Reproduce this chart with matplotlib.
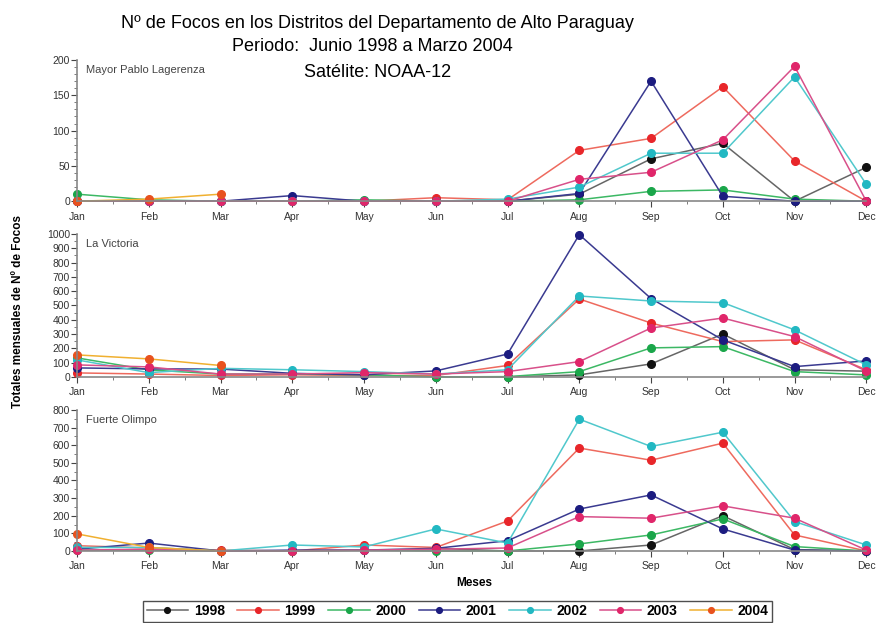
import matplotlib.pyplot as plt
from matplotlib.ticker import MultipleLocator
import numpy as np

plt.rcParams['font.family'] = ['Liberation Sans', 'DejaVu Sans']

meses = ['Jan', 'Feb', 'Mar', 'Apr', 'May', 'Jun', 'Jul', 'Aug', 'Sep', 'Oct', 'Nov', 'Dec']
anios = ['1998', '1999', '2000', '2001', '2002', '2003', '2004']
N = np.nan

# Mayor Pablo Lagerenza
lagerenza_1998 = [N, N, N, N, N, 0, 0, 10, 60, 82, 0, 48]
lagerenza_1999 = [0, 0, 0, 0, 0, 5, 2, 72, 89, 162, 57, 0]
lagerenza_2000 = [10, 2, 0, 0, 2, 0, 0, 2, 14, 16, 3, 0]
lagerenza_2001 = [0, 0, 0, 8, 0, 0, 0, 11, 170, 7, 0, 0]
lagerenza_2002 = [0, 0, 0, 0, 0, 0, 3, 20, 68, 68, 176, 24]
lagerenza_2003 = [0, 0, 0, 0, 0, 0, 0, 31, 41, 87, 191, 0]
lagerenza_2004 = [0, 3, 10, N, N, N, N, N, N, N, N, N]

# La Victoria
victoria_1998 = [N, N, N, N, N, 0, 0, 14, 91, 300, 50, 40]
victoria_1999 = [28, 20, 10, 15, 10, 10, 80, 545, 377, 247, 259, 50]
victoria_2000 = [133, 49, 20, 20, 15, 0, 2, 37, 203, 212, 37, 14]
victoria_2001 = [63, 56, 55, 25, 15, 42, 160, 995, 548, 259, 72, 112]
victoria_2002 = [119, 30, 60, 50, 37, 20, 50, 566, 531, 520, 329, 84]
victoria_2003 = [84, 70, 20, 20, 30, 20, 37, 107, 342, 412, 282, 40]
victoria_2004 = [154, 126, 80, N, N, N, N, N, N, N, N, N]

# Fuerte Olimpo
olimpo_1998 = [N, N, N, N, N, 15, 0, 0, 34, 200, 8, 0]
olimpo_1999 = [30, 17, 5, 0, 34, 20, 170, 584, 515, 612, 91, 0]
olimpo_2000 = [5, 5, 0, 0, 5, 0, 0, 40, 91, 182, 25, 0]
olimpo_2001 = [10, 45, 0, 5, 5, 15, 58, 238, 318, 125, 5, 0]
olimpo_2002 = [20, 20, 0, 34, 23, 125, 45, 748, 593, 674, 167, 34]
olimpo_2003 = [5, 10, 0, 0, 5, 10, 17, 195, 186, 256, 186, 5]
olimpo_2004 = [97, 20, 0, N, N, N, N, N, N, N, N, N]

colores_marca = ['#111111', '#e8262a', '#1aa64a', '#1c1c80', '#22b8c2', '#e0266a', '#e8521e']
colores_linea = ['#666666', '#ee6a5e', '#3cb864', '#3a3a90', '#50c8cc', '#d8508a', '#f0b030']

paneles = [
    ('Mayor Pablo Lagerenza', [lagerenza_1998, lagerenza_1999, lagerenza_2000, lagerenza_2001,
                               lagerenza_2002, lagerenza_2003, lagerenza_2004], 200, 50, 10),
    ('La Victoria', [victoria_1998, victoria_1999, victoria_2000, victoria_2001,
                     victoria_2002, victoria_2003, victoria_2004], 1000, 100, 50),
    ('Fuerte Olimpo', [olimpo_1998, olimpo_1999, olimpo_2000, olimpo_2001,
                       olimpo_2002, olimpo_2003, olimpo_2004], 800, 100, 50),
]

fig = plt.figure(figsize=(8.78, 6.23), dpi=100)
posiciones = [[0.0877, 0.677, 0.899, 0.2267],
              [0.0877, 0.395, 0.899, 0.2295],
              [0.0877, 0.1156, 0.899, 0.2263]]

x = np.arange(12)
handles = []
for (nombre, series, ymax, mayor, menor), pos in zip(paneles, posiciones):
    ax = fig.add_axes(pos)
    for serie, cm, cl, anio in zip(series, colores_marca, colores_linea, anios):
        ln, = ax.plot(x, serie, '-', color=cl, lw=1.1, marker='o', ms=5.5,
                      mfc=cm, mec=cm, label=anio, clip_on=False)
        if len(handles) < 7:
            handles.append(ln)
    ax.set_xlim(0, 11)
    ax.set_ylim(0, ymax)
    ax.set_xticks(x)
    ax.set_xticklabels(meses)
    ax.xaxis.set_minor_locator(MultipleLocator(0.5))
    ax.yaxis.set_major_locator(MultipleLocator(mayor))
    ax.yaxis.set_minor_locator(MultipleLocator(menor))
    for lado in ['top', 'right']:
        ax.spines[lado].set_visible(False)
    for lado in ['left', 'bottom']:
        ax.spines[lado].set_color('#888888')
        ax.spines[lado].set_linewidth(1.2)
    ax.tick_params(axis='both', which='major', labelsize=7.5, colors='#444444',
                   length=4, width=0.8, labelcolor='#333333')
    ax.tick_params(axis='both', which='minor', length=2, width=0.6, colors='#666666')
    ax.tick_params(axis='y', pad=1)
    ax.text(0.012, 0.93, nombre, transform=ax.transAxes, fontsize=8,
            color='#444444', va='center', ha='left')

fig.text(0.43, 0.962, 'Nº de Focos en los Distritos del Departamento de Alto Paraguay',
         ha='center', va='center', fontsize=13)
fig.text(0.424, 0.925, 'Periodo:  Junio 1998 a Marzo 2004', ha='center', va='center', fontsize=13)
fig.text(0.43, 0.884, 'Satélite: NOAA-12', ha='center', va='center', fontsize=13)

fig.text(0.02, 0.5, 'Totales mensuales de Nº de Focos', rotation=90, ha='center',
         va='center', fontsize=8.5, fontweight='bold')
fig.text(0.54, 0.064, 'Meses', ha='center', va='center', fontsize=8.5, fontweight='bold')

leg = fig.legend(handles=handles, labels=anios, loc='upper center', ncol=7,
                 bbox_to_anchor=(0.521, 0.036), frameon=True, fancybox=False,
                 fontsize=10, handlelength=3.0, handletextpad=0.4, columnspacing=0.9,
                 borderpad=0.25, borderaxespad=0, edgecolor='#222222', markerscale=0.75)
leg.get_frame().set_linewidth(1.0)
for t in leg.get_texts():
    t.set_fontweight('bold')

fig.savefig('out.png', dpi=100)
